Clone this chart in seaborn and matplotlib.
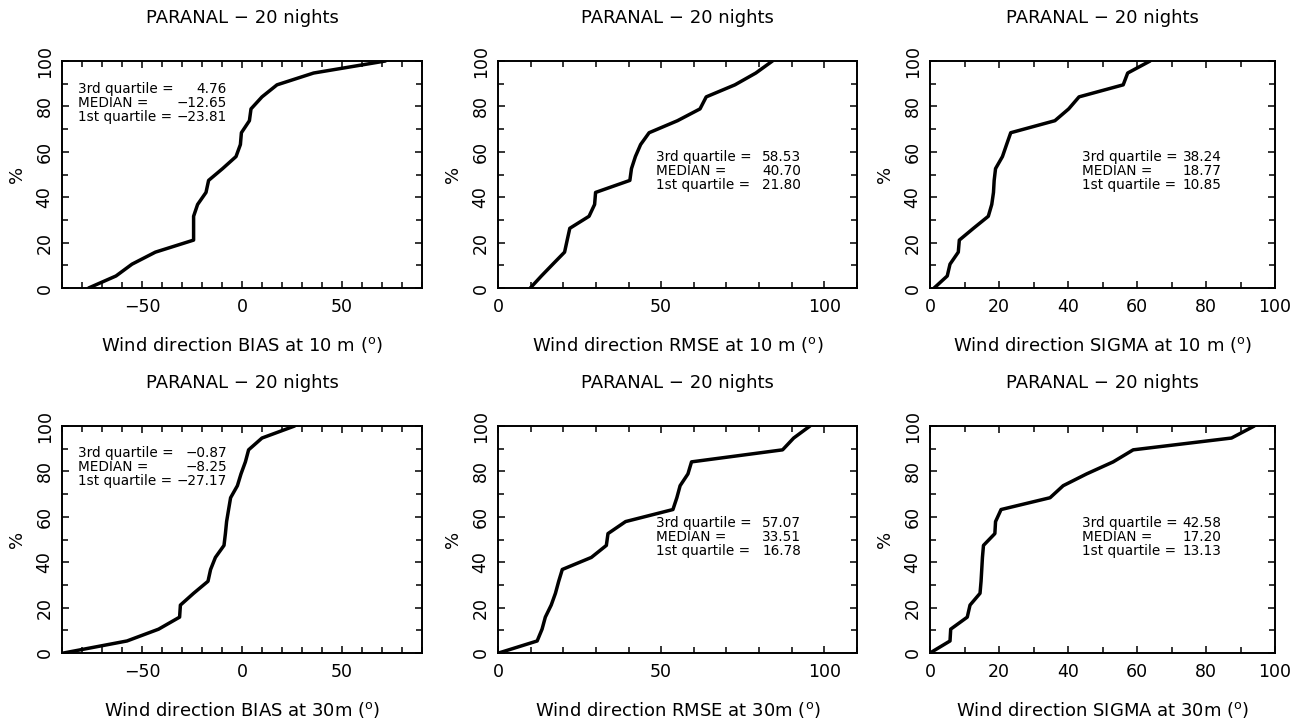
import numpy as np
import matplotlib
matplotlib.use('Agg')
import matplotlib.pyplot as plt
import seaborn as sns
import pandas as pd
from matplotlib.ticker import MultipleLocator

sns.set_theme(style='ticks')
plt.rcParams['font.family'] = ['DejaVu Sans']
plt.rcParams['text.color'] = 'black'
plt.rcParams['axes.labelcolor'] = 'black'
plt.rcParams['xtick.color'] = 'black'
plt.rcParams['ytick.color'] = 'black'

# cumulative percentage of the 20 nights (shared by all panels)
pct = [0, 5.3, 10.5, 15.8, 21.1, 26.3, 31.6, 36.8, 42.1, 47.4,
       52.6, 57.9, 63.2, 68.4, 73.7, 78.9, 84.2, 89.5, 94.7, 100]

# sorted values
bias_10m = [-76.7, -63.0, -55.0, -43.3, -24.2, -24.2, -24.2, -22.2, -18.0, -16.7,
            -9.7, -3.0, -0.8, -0.3, 3.7, 4.5, 10.0, 17.5, 35.8, 71.7]
rmse_10m = [9.9, 13.3, 16.8, 20.4, 21.2, 22.0, 27.9, 29.6, 29.9, 40.4,
            40.9, 42.1, 43.7, 46.3, 55.0, 61.9, 63.8, 72.6, 79.0, 84.1]
sigma_10m = [1.2, 5.0, 5.8, 8.2, 8.5, 12.6, 16.9, 17.9, 18.4, 18.6,
             19.0, 21.0, 22.2, 23.4, 36.2, 40.2, 43.2, 56.0, 57.3, 63.8]
bias_30m = [-89.2, -57.5, -41.7, -31.2, -30.8, -24.2, -17.0, -15.7, -13.3, -9.0,
            -8.3, -7.7, -6.7, -5.7, -2.3, -0.5, 1.7, 3.3, 10.0, 26.3]
rmse_30m = [0.2, 12.0, 13.5, 14.5, 16.3, 17.6, 18.6, 19.7, 28.6, 33.2,
            33.7, 39.1, 53.6, 54.8, 55.8, 58.2, 59.3, 87.2, 90.6, 95.6]
sigma_30m = [0.0, 5.8, 6.0, 10.8, 11.6, 14.5, 14.8, 15.0, 15.2, 15.5,
             18.8, 19.0, 20.6, 34.8, 38.6, 45.4, 53.1, 58.9, 87.4, 94.0]

# quartile annotations (3rd, median, 1st)
q_bias_10m = ['4.76', '\u221212.65', '\u221223.81']
q_rmse_10m = ['58.53', '40.70', '21.80']
q_sigma_10m = ['38.24', '18.77', '10.85']
q_bias_30m = ['\u22120.87', '\u22128.25', '\u221227.17']
q_rmse_30m = ['57.07', '33.51', '16.78']
q_sigma_30m = ['42.58', '17.20', '13.13']

xlabels = ['Wind direction BIAS at 10 m ($^{\\rm o}$)',
           'Wind direction RMSE at 10 m ($^{\\rm o}$)',
           'Wind direction SIGMA at 10 m ($^{\\rm o}$)',
           'Wind direction BIAS at 30m ($^{\\rm o}$)',
           'Wind direction RMSE at 30m ($^{\\rm o}$)',
           'Wind direction SIGMA at 30m ($^{\\rm o}$)']
title = 'PARANAL \u2212 20 nights'

series = [bias_10m, rmse_10m, sigma_10m, bias_30m, rmse_30m, sigma_30m]
quarts = [q_bias_10m, q_rmse_10m, q_sigma_10m, q_bias_30m, q_rmse_30m, q_sigma_30m]

# axes layout in figure pixels (left, width)
cols = [(62, 360), (498, 359), (930, 345)]
rows = [61, 426]  # axes top
H = 227
W_FIG, H_FIG = 1306, 725

xlims = [(-90, 90), (0, 110), (0, 100)]
xmajor = [50, 50, 20]
# text box: left/right x fraction, y fraction of the first line
txt_pos = [(0.044, 0.458, 0.877), (0.440, 0.844, 0.577), (0.441, 0.846, 0.577),
           (0.044, 0.458, 0.881), (0.440, 0.844, 0.573), (0.441, 0.846, 0.573)]
line_step = 0.061

fig = plt.figure(figsize=(13.06, 7.25), dpi=100)

for i in range(6):
    r, c = divmod(i, 3)
    left, width = cols[c]
    top = rows[r]
    ax = fig.add_axes([left / W_FIG, 1 - (top + H) / H_FIG, width / W_FIG, H / H_FIG])

    df = pd.DataFrame({'x': series[i], 'y': pct})
    sns.lineplot(data=df, x='x', y='y', ax=ax, color='black', lw=2.5,
                 sort=False, estimator=None)

    ax.set_xlim(*xlims[c])
    ax.set_ylim(0, 100)
    ax.xaxis.set_major_locator(MultipleLocator(xmajor[c]))
    ax.xaxis.set_minor_locator(MultipleLocator(10))
    ax.yaxis.set_major_locator(MultipleLocator(20))
    ax.yaxis.set_minor_locator(MultipleLocator(10))
    ax.tick_params(which='both', direction='in', top=True, right=True,
                   width=1.1, color='black', labelsize=12.5)
    ax.tick_params(which='major', length=5)
    ax.tick_params(which='minor', length=4.5)
    ax.tick_params(axis='x', pad=7)
    ax.tick_params(axis='y', pad=6, labelrotation=90)
    plt.setp(ax.get_yticklabels(), va='center')
    for s in ax.spines.values():
        s.set_linewidth(1.4)
        s.set_color('black')

    ax.set_xlabel(xlabels[i], fontsize=13)
    ax.xaxis.set_label_coords(0.5, -57 / H)
    ax.xaxis.label.set_va('center')
    ax.set_ylabel('%', fontsize=13)
    ax.yaxis.set_label_coords(-45 / width, 0.5)
    ax.yaxis.label.set_va('center')
    ax.set_title(title, fontsize=13, y=1 + 43 / H, pad=0, va='center')

    lx, rx, ty = txt_pos[i]
    names = ['3rd quartile =', 'MEDIAN =', '1st quartile =']
    for k in range(3):
        yy = ty - k * line_step
        ax.text(lx, yy, names[k], transform=ax.transAxes, ha='left',
                va='center', fontsize=9.8)
        ax.text(rx, yy, quarts[i][k], transform=ax.transAxes, ha='right',
                va='center', fontsize=9.8)

fig.savefig('out.png', dpi=100, facecolor='white')
